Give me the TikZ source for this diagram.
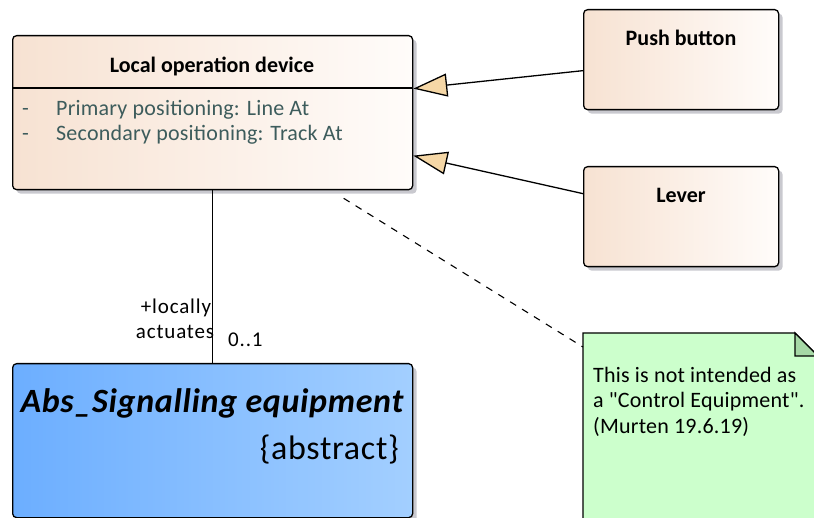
\documentclass[tikz,border=0pt]{standalone}
\usepackage{fontspec}
\setmainfont{Carlito}
\newfontfamily\notefont{Carlito}[Ligatures=TeXOff,LetterSpace=1]
\usetikzlibrary{arrows.meta,shadows}
\definecolor{peachL}{HTML}{F7E2D2}
\definecolor{peachR}{HTML}{FFFCFA}
\definecolor{blueL}{HTML}{6CAEFF}
\definecolor{blueR}{HTML}{A3CFFF}
\definecolor{notefill}{HTML}{CCFFCC}
\definecolor{notefold}{HTML}{A6D8A6}
\definecolor{shadowgray}{HTML}{C9C9CF}
\definecolor{attrcol}{HTML}{3D5C5C}
\definecolor{tipfill}{HTML}{F5D7A6}
\tikzset{
  basebox/.style={draw=black, line width=1.3pt, rounded corners=4pt, inner sep=0pt, anchor=north west,
    drop shadow={shadow xshift=4pt, shadow yshift=-4pt, fill=shadowgray, opacity=1}},
  classbox/.style={basebox, shade, shading angle=90, left color=peachL, right color=peachR},
  absbox/.style={basebox, shade, shading angle=90, left color=blueL, right color=blueR},
  ttl/.style={font=\fontsize{22}{25}\selectfont\bfseries, anchor=base, inner sep=0pt},
  attr/.style={font=\fontsize{22}{25}\selectfont\addfontfeatures{LetterSpace=1}, text=attrcol, anchor=base west, inner sep=0pt},
  lbl/.style={font=\fontsize{21}{25}\selectfont\addfontfeatures{LetterSpace=4}, inner sep=0pt},
  gen/.style={line width=1.3pt, -{Triangle[length=34pt,width=23pt,fill=tipfill,line width=1.3pt]}},
}
\begin{document}
\begin{tikzpicture}[x=1pt,y=-1pt]
\useasboundingbox (0,0) rectangle (814,518);
% classes
\node[classbox, minimum width=400pt, minimum height=154pt] (lod) at (12,35) {};
\draw[line width=1.3pt] (12,88) -- (412,88);
\node[ttl] (lodt) at (212,73) {Local operation device};
\node[attr] (a1d) at (22,116) {-};
\node[attr] (a1) at (56,116) {Primary positioning: Line At};
\node[attr] (a2d) at (22,141) {-};
\node[attr] (a2) at (56,141) {Secondary positioning: Track At};

\node[classbox, minimum width=195pt, minimum height=100pt] (pb) at (583,9) {};
\node[ttl] (pbt) at (681,46) {Push button};
\node[classbox, minimum width=195pt, minimum height=100pt] (lev) at (583,166) {};
\node[ttl] (levt) at (681,203) {Lever};

\node[absbox, minimum width=400pt, minimum height=154pt] (abs) at (12,363) {};
\node[font=\fontsize{34}{38}\selectfont\bfseries\itshape\addfontfeatures{LetterSpace=2}, anchor=base, inner sep=0pt] (abst) at (212,413) {Abs\_Signalling equipment};
\node[font=\fontsize{34}{38}\selectfont\addfontfeatures{LetterSpace=2}, anchor=base east, inner sep=0pt] (absa) at (399,460) {\{abstract\}};

% note
\path[fill=notefill, draw=black, line width=1.3pt] (583,333) -- (795,333) -- (818,356) -- (818,522) -- (583,522) -- cycle;
\path[fill=notefold, draw=black, line width=1.3pt] (795,333) -- (795,356) -- (818,356) -- cycle;
\coordinate (note) at (583,347);
\node[font=\fontsize{22}{25.5}\selectfont\notefont, align=left, anchor=base west, inner sep=0pt] (notet) at (593,433)
  {This is not intended as\\a "Control Equipment".\\(Murten 19.6.19)};

% connectors
\draw[gen] ([yshift=-11pt]pb.west) -- ([yshift=24pt]lod.east);
\draw[gen] ([yshift=23pt]lev.west) -- ([yshift=-43pt]lod.east);
\draw[line width=1.3pt] (lod.south) -- (abs.north);
\draw[line width=1.1pt, dash pattern=on 7pt off 7pt] ([xshift=131pt,yshift=-8pt]lod.south) -- (note);

% labels
\node[lbl, anchor=base] (l1) at (176,314) {+locally};
\node[lbl, anchor=base] (l2) at (175,339) {actuates};
\node[lbl, anchor=base west] (l3) at (228,347) {0..1};
\end{tikzpicture}
\end{document}
